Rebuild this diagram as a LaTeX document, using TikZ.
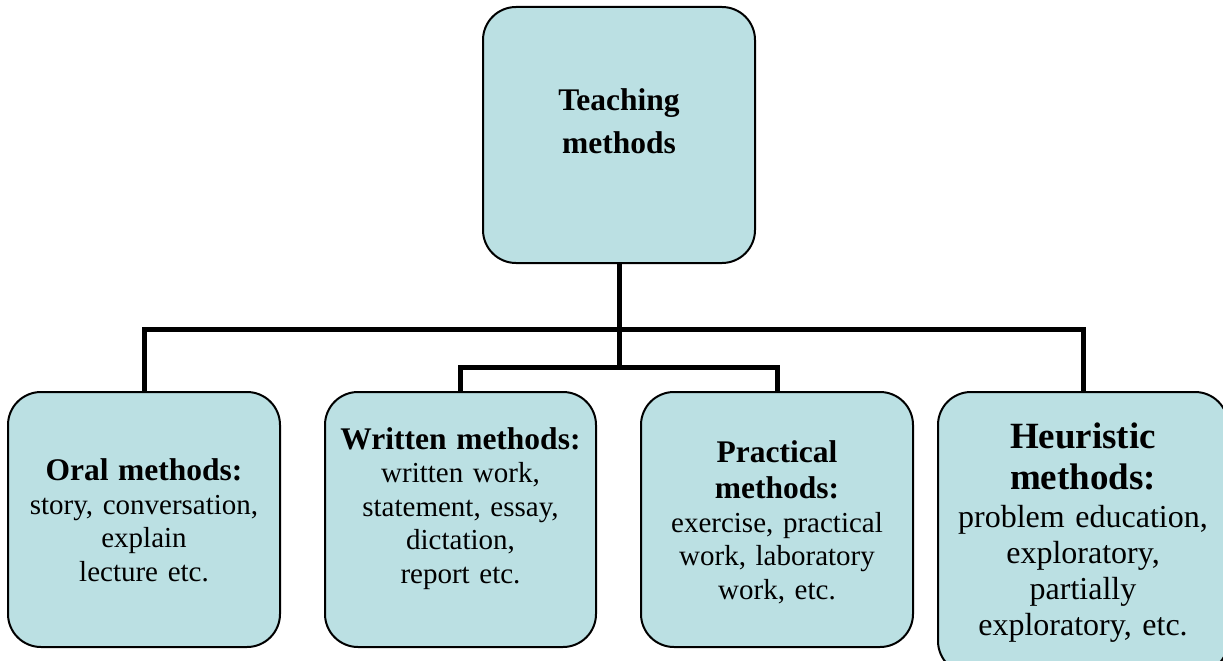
\documentclass[tikz,border=0pt]{standalone}
\usepackage{fontspec}
\setmainfont{Liberation Serif}
\usetikzlibrary{calc}
\definecolor{boxfill}{HTML}{BBE0E3}
\newcommand{\hdfont}{\fontsize{31.5}{36}\selectfont\bfseries}
\newcommand{\bdfont}{\fontsize{29}{33.5}\selectfont\mdseries}
\tikzset{
  mbox/.style={draw=black, line width=2pt, fill=boxfill, rounded corners=33pt,
    minimum width=272pt, minimum height=255pt, inner sep=0pt},
  txt/.style={align=center, text width=290pt, inner sep=0pt, font=\bdfont},
  conn/.style={line width=5pt, draw=black}
}
\begin{document}
\begin{tikzpicture}[x=1pt,y=-1pt]
\useasboundingbox (0,0) rectangle (1223,661);
\clip (0,0) rectangle (1223,661);
\fill[white] (0,0) rectangle (1223,661);
% boxes
\node[mbox, minimum height=256pt] (top) at (619,135) {};
\node[mbox] (oral) at (144,519.5) {};
\node[mbox, minimum width=271pt] (writ) at (460.5,519.5) {};
\node[mbox] (prac) at (777,519.5) {};
\node[mbox, minimum width=290pt, minimum height=282pt] (heur) at (1083,533) {};
% texts
\node[txt, font=\fontsize{31.5}{43}\selectfont\bfseries] (ttop) at ($(top.center)+(0,-14)$) {Teaching\\methods\par};
\node[txt] (toral) at ($(oral.center)+(0,1)$) {\hdfont Oral methods:\\ \bdfont story, conversation,\\ explain\\ lecture etc.\par};
\node[txt] (twrit) at ($(writ.center)+(0,-11)$) {\hdfont Written methods:\\ \bdfont written work,\\ statement, essay,\\ dictation,\\ report etc.\par};
\node[txt] (tprac) at ($(prac.center)+(0,3)$) {\hdfont Practical\\ methods:\\ \bdfont exercise, practical\\ work, laboratory\\ work, etc.\par};
\node[txt, font=\fontsize{32}{36}\selectfont] (theur) at ($(heur.center)+(0,0)$) {\fontsize{37}{41}\selectfont\bfseries Heuristic\\ methods:\\ \fontsize{32}{38}\selectfont\mdseries problem education,\\ \fontsize{32}{36}\selectfont exploratory,\\ partially\\ exploratory, etc.\par};
% connectors
\coordinate (j1) at (619,329);
\coordinate (j2) at (619,367);
\draw[conn] (top.south) -- (j2);
\draw[conn] (oral.north) |- (j1) -| (heur.north);
\draw[conn] (writ.north) |- (j2) -| (prac.north);
\end{tikzpicture}
\end{document}
